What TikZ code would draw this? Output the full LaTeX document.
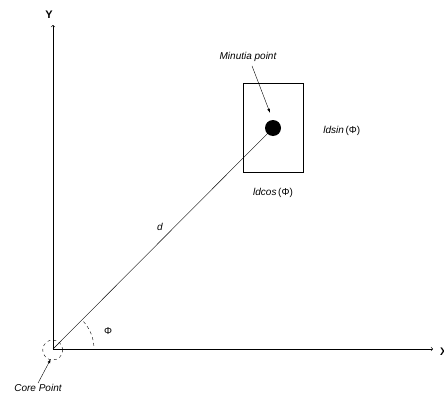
\documentclass[tikz,border=0pt]{standalone}
\usepackage{fontspec}
\setmainfont{Liberation Sans}
\usetikzlibrary{arrows,positioning}

\tikzset{
    lbl/.style={font=\fontsize{10}{11}\selectfont\itshape, inner sep=1pt},
    axis/.style={->, >=to, semithick},
    pointer/.style={-latex, thin},
}

\begin{document}
\begin{tikzpicture}[x=1pt, y=-1pt]
    \useasboundingbox (0,0) rectangle (444,396);

    % Axes
    \coordinate (O) at (53,349);
    \coordinate (ytip) at (53,25);
    \coordinate (xtip) at (433,349);
    \node[font=\fontsize{11}{12}\selectfont\bfseries] (ylabel) at (49,15) {Y};
    \node[font=\fontsize{11}{12}\selectfont\bfseries, anchor=west, inner sep=0pt] (xlabel) at (440,352) {X};
    \draw[axis] (O) -- (ytip);
    \draw[axis] (O) -- (xtip);

    % Minutia box and point
    \node[draw, thin, minimum width=60pt, minimum height=89pt, inner sep=0pt] (box) at (273,127.5) {};
    \node[circle, fill=black, minimum size=16pt, inner sep=0pt] (minutia) at (273,128) {};
    \node[lbl] (mlabel) at (248,57) {Minutia point};
    \draw[pointer] ([shift={(4,3)}]mlabel.south) -- ([shift={(-3,-7)}]minutia.north);

    \node[lbl, right=19pt of box.east, yshift=-3pt] (sinlabel) {ldsin\,{\upshape(Φ)}};
    \node[lbl, below=15pt of box.south] (coslabel) {ldcos\,{\upshape(Φ)}};

    % Distance and angle
    \draw[thin] (O) -- (minutia.center);
    \node[lbl] (dlabel) at (160,227) {d};
    \draw[dashed, thin] ([shift={(-42:41)}]O) arc (-42:-3:41);
    \node[font=\fontsize{10}{11}\selectfont] (philabel) at (108,331) {Φ};

    % Core point
    \node[draw, dashed, thin, circle, minimum size=20pt, inner sep=0pt] (core) at (52.7,350) {};
    \node[lbl] (clabel) at (38,388) {Core Point};
    \draw[pointer] (clabel.north) -- ([shift={(-2,-1)}]core.south);
\end{tikzpicture}
\end{document}
